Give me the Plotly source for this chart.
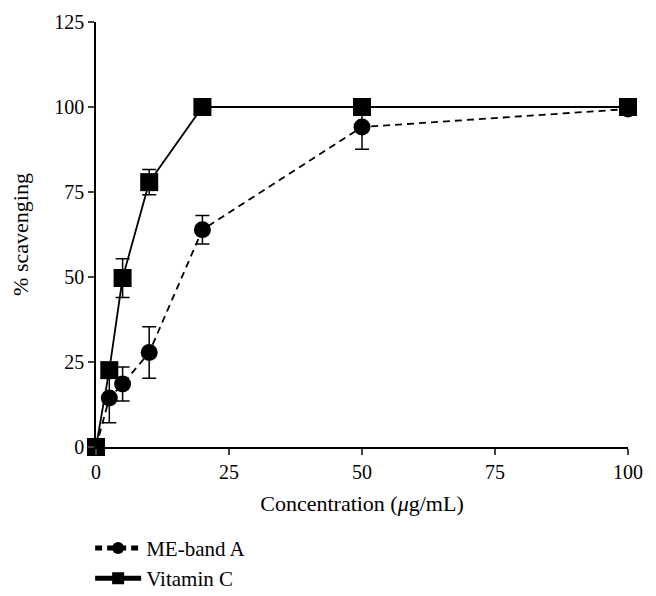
import plotly.graph_objects as go

conc = [0, 2.5, 5, 10, 20, 50, 100]
me_band_a = [0, 14.4, 18.5, 27.8, 63.9, 94.1, 99.4]
me_band_a_err = [0, 7.3, 5.0, 7.6, 4.2, 6.5, 0.5]
vitamin_c = [0, 22.6, 49.7, 77.9, 100, 100, 100]
vitamin_c_err = [0, 2.0, 5.7, 3.7, 0.5, 0.5, 0.5]

x_ticks = [0, 25, 50, 75, 100]
y_ticks = [0, 25, 50, 75, 100, 125]

font = "Liberation Serif, Times New Roman, serif"

fig = go.Figure()
fig.add_trace(go.Scatter(
    x=conc, y=me_band_a, name="ME-band A", mode="lines+markers",
    line=dict(color="black", width=1.8, dash="7px,5px"),
    marker=dict(symbol="circle", size=17, color="black"),
    error_y=dict(type="data", array=me_band_a_err, color="black", thickness=1.5, width=7),
    cliponaxis=False,
))
fig.add_trace(go.Scatter(
    x=conc, y=vitamin_c, name="Vitamin C", mode="lines+markers",
    line=dict(color="black", width=1.8),
    marker=dict(symbol="square", size=18, color="black"),
    error_y=dict(type="data", array=vitamin_c_err, color="black", thickness=1.5, width=7),
    cliponaxis=False,
))

fig.update_layout(
    width=656, height=596,
    margin=dict(l=96, r=28, t=22, b=149, autoexpand=False),
    paper_bgcolor="white", plot_bgcolor="white",
    font=dict(family=font, size=20, color="black"),
    showlegend=True,
    legend=dict(x=-0.011, y=-0.19, xanchor="left", yanchor="top",
                font=dict(family=font, size=21, color="black"),
                tracegroupgap=0, itemwidth=46, itemsizing="constant",
                bgcolor="rgba(0,0,0,0)"),
    xaxis=dict(range=[0, 100], tickvals=x_ticks, ticks="outside", ticklen=6,
               tickwidth=1.5, showline=True, linecolor="black", linewidth=1.5,
               showgrid=False, zeroline=False, tickfont=dict(size=20), automargin=False,
               title=dict(text="Concentration (<i>μ</i>g/mL)", font=dict(size=22), standoff=14)),
    yaxis=dict(range=[0, 125], tickvals=y_ticks, ticks="outside", ticklen=6,
               tickwidth=1.5, showline=True, linecolor="black", linewidth=1.5,
               showgrid=False, zeroline=False, tickfont=dict(size=20), automargin=False,
               title=dict(text="% scavenging", font=dict(size=22), standoff=20)),
)

fig.write_html("out.html", config={"displayModeBar": False},
               post_script="document.body.style.margin='0';")
